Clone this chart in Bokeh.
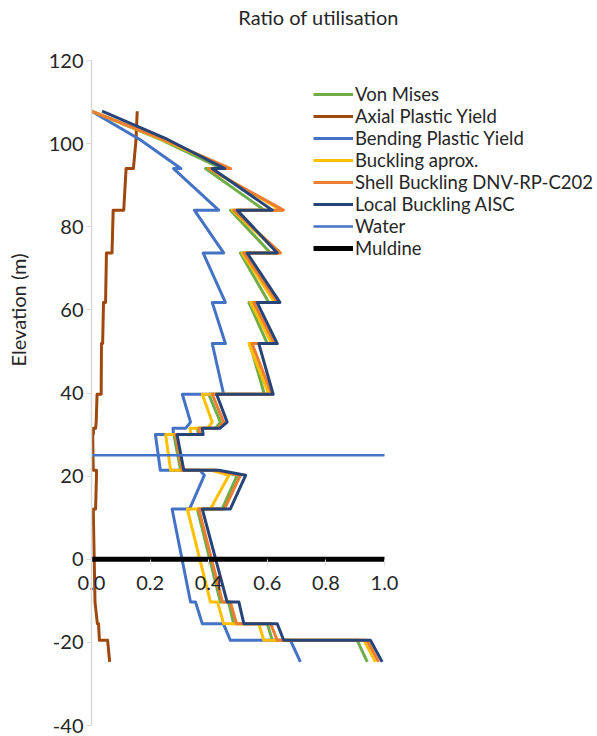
from bokeh.plotting import figure
from bokeh.models import (Range1d, LinearAxis, FixedTicker, PrintfTickFormatter,
                          Legend, LegendItem, Label)
from bokeh.embed import file_html
from bokeh.resources import INLINE

# ---------------- data ----------------
elevation = [107.8, 101.0, 94.0, 94.0, 84.0, 84.0, 73.7, 73.7, 61.8, 61.8,
             51.9, 51.9, 39.7, 39.7, 33.0, 31.5, 31.5, 30.0, 30.0, 21.4,
             21.4, 20.2, 12.1, 12.1, -10.3, -10.3, -15.5, -15.5, -19.5, -19.5, -24.7]

von_mises = [0.0, 0.235, 0.445, 0.389, 0.59, 0.474, 0.611, 0.508, 0.605, 0.537,
             0.60, 0.54, 0.59, 0.40, 0.44, 0.423, 0.361, 0.365, 0.281, 0.304,
             0.42, 0.497, 0.446, 0.361, 0.44, 0.468, 0.485, 0.60, 0.617, 0.907, 0.941]

axial_plastic = [0.156, 0.152, 0.143, 0.118, 0.11, 0.074, 0.07, 0.051, 0.048, 0.041,
                 0.038, 0.034, 0.033, 0.019, 0.016, 0.014, 0.007, 0.006, 0.004, 0.006,
                 0.017, 0.017, 0.014, 0.006, 0.012, 0.012, 0.02, 0.024, 0.027, 0.055, 0.062]

bending_plastic = [0.0, 0.165, 0.305, 0.28, 0.434, 0.351, 0.451, 0.381, 0.457, 0.412,
                   0.457, 0.412, 0.451, 0.31, 0.338, 0.321, 0.278, 0.28, 0.218, 0.235,
                   0.37, 0.385, 0.335, 0.275, 0.338, 0.355, 0.378, 0.45, 0.474, 0.679, 0.713]

buckling_aprox = [0.0, 0.24, 0.47, 0.40, 0.648, 0.48, 0.64, 0.514, 0.625, 0.543,
                  0.615, 0.537, 0.605, 0.378, 0.412, 0.397, 0.336, 0.34, 0.253, 0.27,
                  0.41, 0.469, 0.406, 0.327, 0.406, 0.43, 0.451, 0.571, 0.588, 0.93, 0.969]

shell_buckling = [0.0, 0.245, 0.475, 0.40, 0.655, 0.485, 0.645, 0.52, 0.635, 0.553,
                  0.625, 0.548, 0.615, 0.412, 0.451, 0.431, 0.366, 0.37, 0.287, 0.309,
                  0.425, 0.508, 0.454, 0.366, 0.447, 0.474, 0.495, 0.611, 0.634, 0.94, 0.98]

local_buckling = [0.036, 0.26, 0.455, 0.412, 0.617, 0.497, 0.634, 0.531, 0.643, 0.565,
                  0.634, 0.571, 0.62, 0.427, 0.463, 0.438, 0.378, 0.381, 0.292, 0.315,
                  0.435, 0.526, 0.474, 0.378, 0.463, 0.503, 0.52, 0.634, 0.656, 0.952, 0.992]

water_x = [0.0, 1.0]
water_y = [25.0, 25.0]
muldine_x = [0.0, 1.0]
muldine_y = [0.0, 0.0]

x_ticks = [0.0, 0.2, 0.4, 0.6, 0.8, 1.0]
y_ticks = [-40, -20, 0, 20, 40, 60, 80, 100, 120]

series_names = ["Von Mises", "Axial Plastic Yield", "Bending Plastic Yield",
                "Buckling aprox.", "Shell Buckling DNV-RP-C202", "Local Buckling AISC"]
series_values = [von_mises, axial_plastic, bending_plastic,
                 buckling_aprox, shell_buckling, local_buckling]
series_colors = ["#70AD47", "#9E480E", "#4472C4", "#FFC000", "#ED7D31", "#264478"]

FONT = "Lato"
TEXT_COLOR = "#262626"
AXIS_GRAY = "#D9D9D9"

W, H = 597, 736
# plot-area placement in the page (pixels): x 0..1 -> 91..384, y 120..-40 -> 60..725
PX_L, PX_R, PY_T, PY_B = 91, 384, 60, 725
sx = (PX_R - PX_L) / 1.0
sy = (PY_B - PY_T) / 160.0
x_lo = -PX_L / sx
x_hi = (W - PX_L) / sx
y_hi = 120 + PY_T / sy
y_lo = -40 - (H - PY_B) / sy

p = figure(width=W, height=H, output_backend="svg", toolbar_location=None,
           x_range=Range1d(x_lo, x_hi), y_range=Range1d(y_lo, y_hi),
           x_axis_location=None, y_axis_location=None, min_border=0)
p.outline_line_color = None
p.xgrid.visible = False
p.ygrid.visible = False
p.background_fill_color = "white"
p.border_fill_color = "white"

# title
p.add_layout(Label(x=318, y=H - 16, x_units="screen", y_units="screen",
                   text="Ratio of utilisation", text_align="center",
                   text_baseline="middle", text_font=FONT, text_font_size="20px",
                   text_color=TEXT_COLOR))

# y axis (line + ticks + labels) at x = 0
ya = LinearAxis(fixed_location=0, bounds=(-40, 120), ticker=FixedTicker(ticks=y_ticks),
                formatter=PrintfTickFormatter(format="%d"))
ya.axis_line_color = AXIS_GRAY
ya.axis_line_width = 1.5
ya.major_tick_line_color = AXIS_GRAY
ya.major_tick_in = 0
ya.major_tick_out = 5
ya.minor_tick_line_color = None
ya.major_label_standoff = 3
ya.major_label_text_font = FONT
ya.major_label_text_font_size = "20px"
ya.major_label_text_color = TEXT_COLOR
p.add_layout(ya, "left")

# axis title (centred on the upper part, as in the reference)
yl = LinearAxis(fixed_location=0, bounds=(0, 120), ticker=FixedTicker(ticks=[]))
yl.axis_line_color = None
yl.major_tick_line_color = None
yl.minor_tick_line_color = None
yl.major_tick_out = 0
yl.major_label_standoff = 0
yl.axis_label = "Elevation (m)"
yl.axis_label_text_font = FONT
yl.axis_label_text_font_size = "20px"
yl.axis_label_text_font_style = "normal"
yl.axis_label_text_color = TEXT_COLOR
yl.axis_label_standoff = 62
p.add_layout(yl, "left")

# x axis crossing at elevation 0
xa = LinearAxis(fixed_location=0, bounds=(0, 1), ticker=FixedTicker(ticks=x_ticks),
                formatter=PrintfTickFormatter(format="%.1f"))
xa.axis_line_color = None
xa.major_tick_line_color = AXIS_GRAY
xa.major_tick_in = 0
xa.major_tick_out = 6
xa.minor_tick_line_color = None
xa.major_label_standoff = 11
xa.major_label_text_font = FONT
xa.major_label_text_font_size = "20px"
xa.major_label_text_color = TEXT_COLOR
p.add_layout(xa, "below")

items = []
for name, vals, col in zip(series_names, series_values, series_colors):
    r = p.line(vals, elevation, line_color=col, line_width=3, line_join="round")
    items.append(LegendItem(label=name, renderers=[r]))

rw = p.line(water_x, water_y, line_color="#4472C4", line_width=2.5)
items.append(LegendItem(label="Water", renderers=[rw]))
rm = p.line(muldine_x, muldine_y, line_color="black", line_width=5)
items.append(LegendItem(label="Muldine", renderers=[rm]))

legend = Legend(items=items, location=(313, H - 259),
                label_text_font=FONT, label_text_font_size="18.5px",
                label_text_color=TEXT_COLOR, label_height=20, glyph_height=20,
                glyph_width=40, spacing=0, padding=0, margin=0, label_standoff=2,
                border_line_alpha=0, background_fill_alpha=0)
p.add_layout(legend)

open("out.html", "w").write(file_html(p, INLINE))
